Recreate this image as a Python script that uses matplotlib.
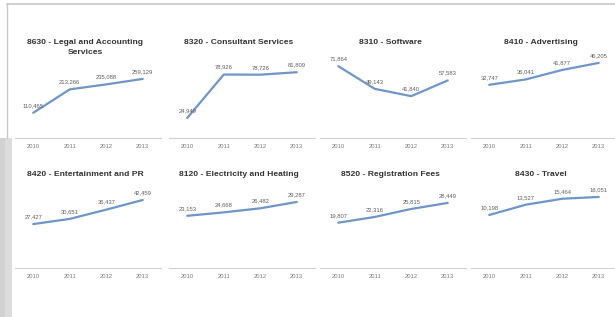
import matplotlib
matplotlib.use("Agg")
import matplotlib.pyplot as plt
from matplotlib.patches import Rectangle
from matplotlib.lines import Line2D

years = ["2010", "2011", "2012", "2013"]

titles = [
    "8630 - Legal and Accounting\nServices",
    "8320 - Consultant Services",
    "8310 - Software",
    "8410 - Advertising",
    "8420 - Entertainment and PR",
    "8120 - Electricity and Heating",
    "8520 - Registration Fees",
    "8430 - Travel",
]

legal = [110465, 213266, 235088, 259129]
consultant = [24949, 78926, 78726, 81809]
software = [71864, 49143, 41840, 57583]
advertising = [32747, 36041, 41877, 46205]
entertainment = [27427, 30651, 36437, 42459]
electricity = [23153, 24668, 26482, 29287]
registration = [19807, 22316, 25815, 28449]
travel = [10198, 13527, 15464, 16051]

series = [legal, consultant, software, advertising,
          entertainment, electricity, registration, travel]

# y-limits per panel (scale only)
ylims = [(0, 342000), (0, 97000), (0, 78000), (0, 48000),
         (0, 48700), (0, 34600), (0, 34100), (-7000, 18300)]

W, H = 615, 317
fig = plt.figure(figsize=(W / 100, H / 100), dpi=100)
fig.patch.set_facecolor("white")

plt.rcParams["font.family"] = ["Liberation Sans", "DejaVu Sans"]

# background decorations
bg = fig.add_axes([0, 0, 1, 1])
bg.set_xlim(0, W)
bg.set_ylim(H, 0)
bg.axis("off")
bg.add_patch(Rectangle((0, 138), 12, 179, color="#dcdcdc", lw=0))
bg.add_patch(Rectangle((0, 138), 5, 179, color="#d2d2d2", lw=0))
bg.add_line(Line2D([7, W], [4, 4], color="#c8c8c8", lw=1.2))
bg.add_line(Line2D([7, 7], [4, 138], color="#c8c8c8", lw=1.0))

col_left = [15, 169, 320, 471]
panel_w = 146
row_base = [138, 268]
panel_h = 78
title_y = [39, 171]

line_color = "#6f95c9"

for i, (vals, title) in enumerate(zip(series, titles)):
    r, c = divmod(i, 4)
    x0 = col_left[c]
    b = row_base[r]
    ax = fig.add_axes([x0 / W, 1 - b / H, panel_w / W, panel_h / H])
    ax.set_facecolor("none")
    xs = range(len(years))
    ax.plot(xs, vals, color=line_color, lw=1.6, solid_capstyle="round")
    ax.set_xlim(-0.5, len(years) - 0.5)
    ax.set_ylim(*ylims[i])
    for x, v in zip(xs, vals):
        ax.annotate(f"{v:,}", (x, v), xytext=(0, 3.5), textcoords="offset points",
                    ha="center", va="bottom", fontsize=4.2, color="#5e5e5e")
    ax.set_xticks(list(xs))
    ax.set_xticklabels(years, fontsize=4.2, color="#7a7a7a")
    ax.tick_params(axis="x", length=0, pad=4)
    ax.set_yticks([])
    for s in ["top", "right", "left"]:
        ax.spines[s].set_visible(False)
    ax.spines["bottom"].set_color("#d0d0d0")
    ax.spines["bottom"].set_linewidth(0.8)
    cx = x0 + panel_w / 2 - 3
    ty = title_y[r]
    fig.text(cx / W, 1 - ty / H, title, ha="center", va="top", fontsize=6.1,
             fontweight="bold", color="#333333", linespacing=1.55)

fig.savefig("out.png", dpi=100, facecolor="white")
